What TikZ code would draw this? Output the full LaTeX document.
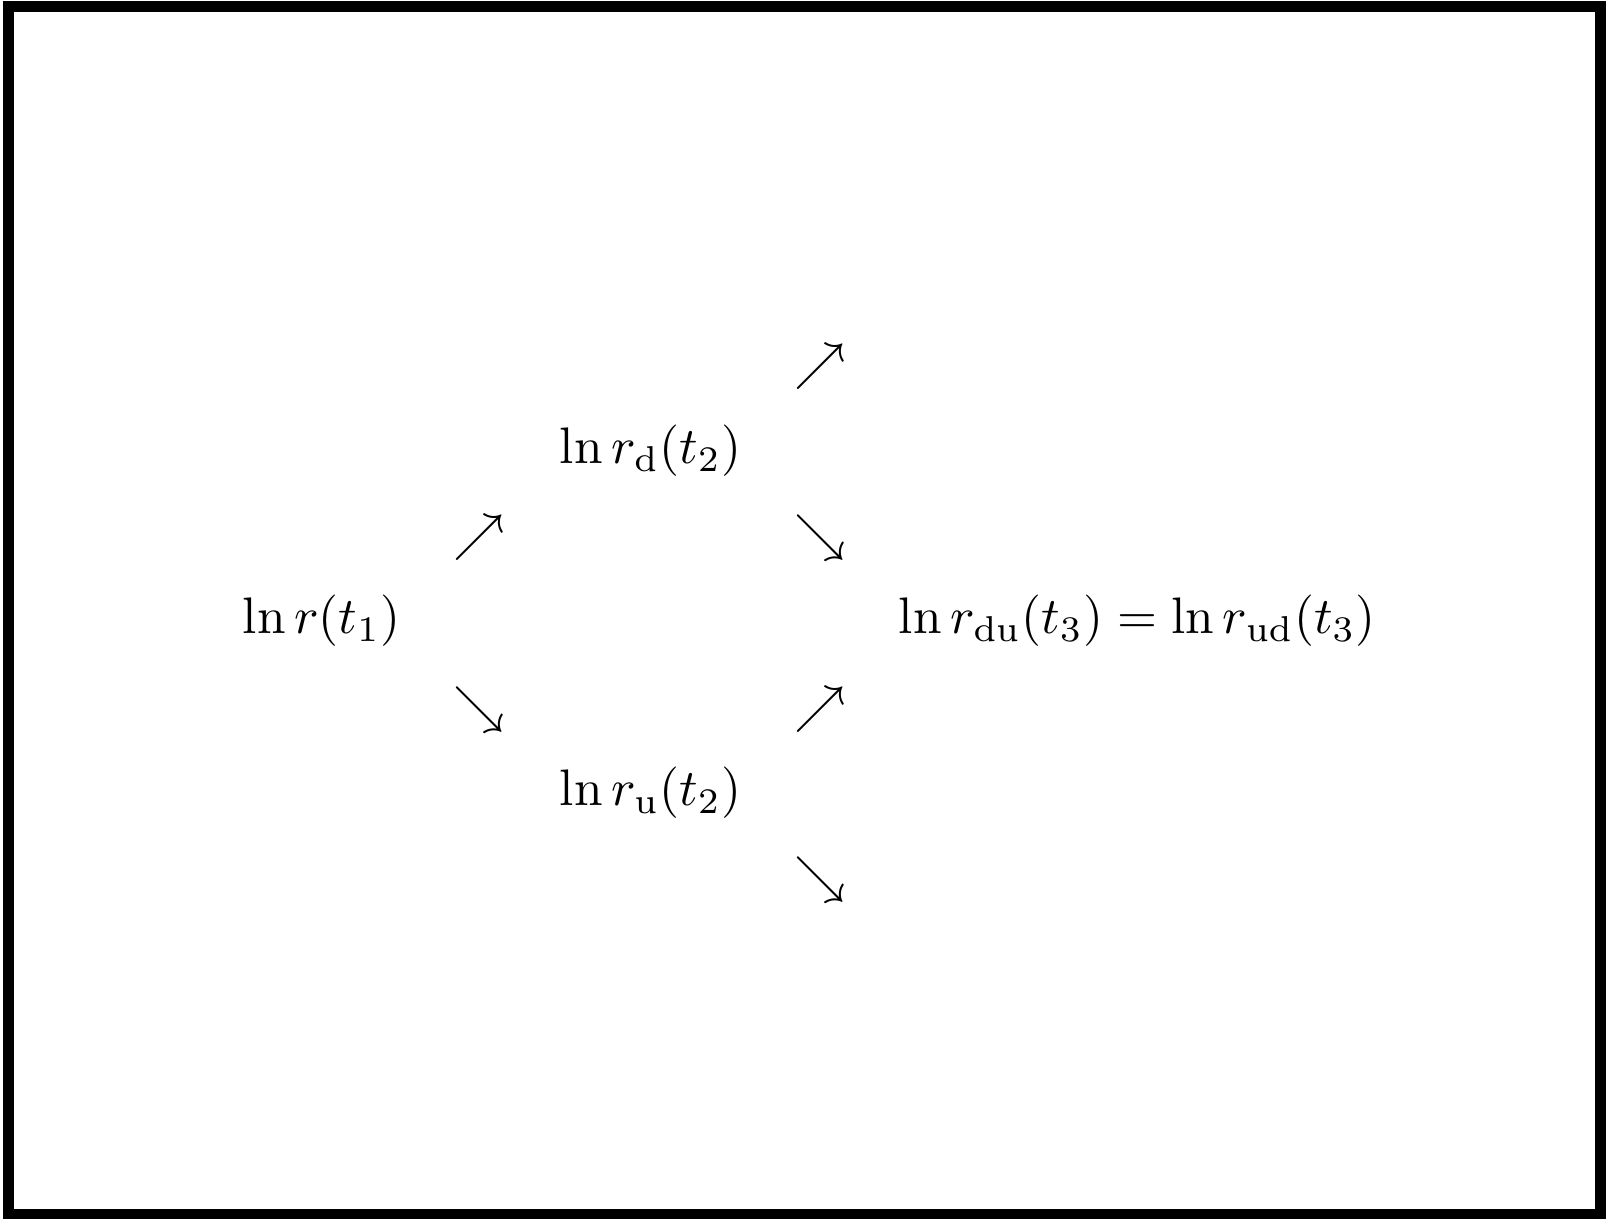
\documentclass[tikz,border=0pt]{standalone}
\usepackage{amsmath}

\begin{document}
\begin{tikzpicture}
        % Marco
        \useasboundingbox (0, 0) rectangle (11, 8.335);
        \draw[line width=0.075cm] (0.06, 0.03) rectangle (10.95, 8.29);

        % Nodos del arbol
        \node (r1) at (2.20, 4.09) {$\ln r(t_1)$};
        \node (rd) at (4.45, 5.25) {$\ln r_{\mathrm{d}}(t_2)$};
        \node (ru) at (4.45, 2.91) {$\ln r_{\mathrm{u}}(t_2)$};
        \node (r3) at (7.78, 4.09) {$\ln r_{\mathrm{du}}(t_3) = \ln r_{\mathrm{ud}}(t_3)$};

        % Flechas de t_1 a t_2
        \node (a1) at (3.28, 4.66) {$\nearrow$};
        \node (a2) at (3.28, 3.48) {$\searrow$};

        % Flechas de t_2 a t_3
        \node (b1) at (5.61, 5.83) {$\nearrow$};
        \node (b2) at (5.61, 4.66) {$\searrow$};
        \node (b3) at (5.61, 3.48) {$\nearrow$};
        \node (b4) at (5.61, 2.32) {$\searrow$};
    \end{tikzpicture}
\end{document}
